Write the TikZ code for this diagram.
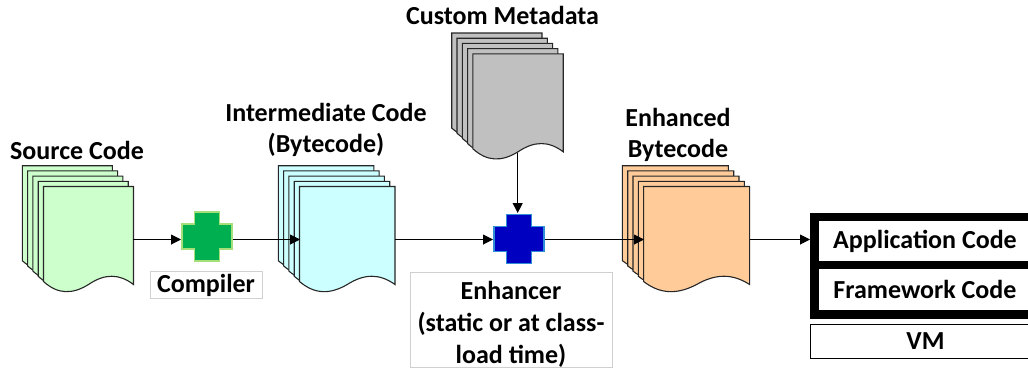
\documentclass[tikz,border=0pt]{standalone}
\usepackage{fontspec}
\setmainfont{Carlito}
\usetikzlibrary{arrows.meta}
\definecolor{greenfill}{HTML}{CCFFCC}
\definecolor{cyanfill}{HTML}{CCFFFF}
\definecolor{grayfill}{HTML}{C0C0C0}
\definecolor{orangefill}{HTML}{FFCC99}
\definecolor{crossgreen}{HTML}{00B050}
\definecolor{crossgreenedge}{HTML}{A6DE7A}
\definecolor{crossblue}{HTML}{0000C0}
\definecolor{crossblueedge}{HTML}{2E8FD8}
\definecolor{boxedge}{HTML}{D0D0D0}
\tikzset{
  lab/.style={font=\bfseries\fontsize{26}{31}\selectfont,align=center,text=black,inner sep=0pt},
  sheet/.style={draw=black!85,line width=1.1pt},
  flow/.style={draw=black,line width=1pt,-{Triangle[length=10pt,width=10pt]}},
  caption/.style={lab,draw=boxedge,line width=1pt,fill=white},
  plus/.style={line width=1.5pt}
}
\newcommand{\onesheet}[4]{% x, y, width, fill
  \path[sheet,fill=#4] (#1,#2) -- ++(#3,0) -- ++(0,98)
    .. controls +({-0.16*(#3)},-11) and +({0.18*(#3)},-11) .. ++({-0.5*(#3)},0)
    .. controls +({-0.18*(#3)},10) and +({0.16*(#3)},13) .. ++({-0.5*(#3)},-3)
    -- cycle;
}
\newcommand{\docstack}[4]{% x, y, width, fill
  \onesheet{#1}{#2}{#3}{#4}
  \onesheet{#1+5.3}{#2+5.2}{#3}{#4}
  \onesheet{#1+10.6}{#2+10.4}{#3}{#4}
  \onesheet{#1+15.9}{#2+15.6}{#3}{#4}
  \onesheet{#1+21.2}{#2+20.8}{#3}{#4}
}
\newcommand{\pluspath}[4]{% cx, cy, fill, edge
  \path[plus,fill=#3,draw=#4] (#1-12.5,#2-24.5) -- ++(25,0) -- ++(0,12) -- ++(12.5,0) -- ++(0,25)
    -- ++(-12.5,0) -- ++(0,12) -- ++(-25,0) -- ++(0,-12) -- ++(-12.5,0) -- ++(0,-25) -- ++(12.5,0) -- cycle;
}
\begin{document}
\begin{tikzpicture}[x=1pt,y=-1pt]
\useasboundingbox (0,0) rectangle (1028,368);
\coordinate (srcout) at (133,239.5);
\coordinate (compin) at (181,239.5);
\coordinate (compout) at (232.5,239.5);
\coordinate (imin) at (300,239.5);
\coordinate (imout) at (395,239.5);
\coordinate (enhin) at (493,239.5);
\coordinate (enhout) at (544.5,239.5);
\coordinate (ebin) at (644,239.5);
\coordinate (ebout) at (750,239.5);
\coordinate (vmin) at (810,239.5);
\coordinate (metaout) at (517.7,152.5);
\coordinate (enhtop) at (517.7,213);

\docstack{22.3}{165.7}{90}{greenfill}
\docstack{278.3}{165.7}{95.5}{cyanfill}
\docstack{451.7}{33}{90.3}{grayfill}
\docstack{622.4}{165.7}{106}{orangefill}

\draw[flow] (srcout) -- (compin);
\draw[flow] (compout) -- (imin);
\draw[flow] (imout) -- (enhin);
\draw[flow] (enhout) -- (ebin);
\draw[flow] (ebout) -- (vmin);
\draw[flow] (metaout) -- (enhtop);

\pluspath{207}{236.7}{crossgreen}{crossgreenedge}
\pluspath{519}{239}{crossblue}{crossblueedge}

\node[lab] (srclab) at (77,150) {Source Code};
\node[lab] (imlab) at (326,130) {Intermediate Code\\(Bytecode)};
\node[lab] (metalab) at (502.5,15) {Custom Metadata};
\node[lab] (eblab) at (678,135) {Enhanced\\Bytecode};

\node[caption,minimum width=112pt,minimum height=27pt] (complab) at (206,284.5) {\rule{0pt}{21pt}Compiler};
\node[caption,font=\bfseries\fontsize{26}{32}\selectfont,minimum width=202pt,minimum height=95pt] (enhlab) at (511,319.5) {\rule{0pt}{27pt}Enhancer\\(static or at class-\\load time)};

\fill[black] (810,213) rectangle (1028,319);
\fill[white] (819.3,221) rectangle (1028,261);
\fill[white] (819.3,269) rectangle (1028,310);
\node[lab] (app) at (925,241) {Application Code};
\node[lab] (fw) at (925,289.5) {Framework Code};
\node[lab,draw=black,line width=1pt,fill=white,minimum width=218pt,minimum height=34pt,anchor=north west] (vm) at (810,324) {\hspace*{12pt}VM};
\end{tikzpicture}
\end{document}
